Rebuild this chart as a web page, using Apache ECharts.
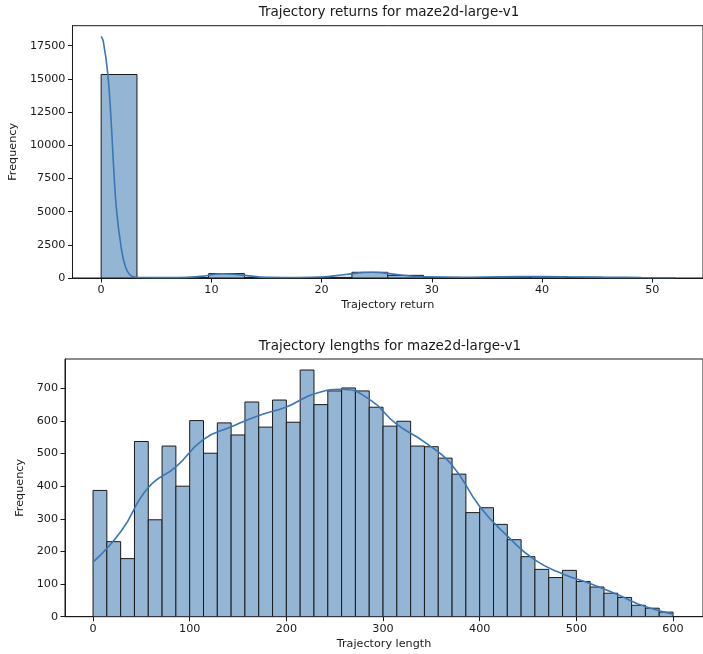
<!DOCTYPE html>
<html><head><meta charset="utf-8">
<script src="https://cdn.jsdelivr.net/npm/echarts@6/dist/echarts.min.js"></script>
<style>html,body{margin:0;padding:0;background:#fff}#c{width:703px;height:654px}</style>
</head><body><div id="c"></div>
<script>
// ---- Top chart: trajectory returns ----
const returnBinEdges = [0,3.25,6.5,9.75,13,16.25,19.5,22.75,26,29.25,32.5,35.75,39,42.25,45.5,48.75,52];
const returnCounts = [15330,30,30,330,40,30,50,430,200,50,40,70,100,50,30,20];
const returnKdeX = [0,0.2,0.6,0.9,1.15,1.4,1.8,2.2,2.6,3.0,3.5,5,7,9,11,13,15,18,20,22,24.5,27,29,32,35,38,40,43,46,49,52];
const returnKdeY = [18200,17800,15400,11900,8100,5100,2400,850,250,80,40,30,30,120,320,200,50,40,70,250,430,250,90,60,70,100,110,80,50,40,20];
const returnXTicks = [0,10,20,30,40,50];
const returnYTicks = [0,2500,5000,7500,10000,12500,15000,17500];

// ---- Bottom chart: trajectory lengths ----
const lengthBinEdges = [0,14.29,28.57,42.86,57.14,71.43,85.71,100,114.29,128.57,142.86,157.14,171.43,185.71,200,214.29,228.57,242.86,257.14,271.43,285.71,300,314.29,328.57,342.86,357.14,371.43,385.71,400,414.29,428.57,442.86,457.14,471.43,485.71,500,514.29,528.57,542.86,557.14,571.43,585.71,600];
const lengthCounts = [387,230,178,537,297,523,400,601,501,594,557,658,581,664,596,756,650,692,701,692,642,584,599,523,521,486,437,319,334,283,236,184,145,120,142,108,91,72,59,35,26,14];
const lengthKdeX = [0,29,57,86,114,143,171,200,229,257,286,314,343,371,400,429,457,486,514,543,571,600];
const lengthKdeY = [167,262,395,460,543,582,616,643,683,697,666,590,535,466,338,246,174,131,102,67,31,8];
const lengthXTicks = [0,100,200,300,400,500,600];
const lengthYTicks = [0,100,200,300,400,500,600,700];

const FONT = 'DejaVu Sans';
const BAR_FILL = '#95b5d5';
const BAR_EDGE = '#1a1a1a';
const LINE = '#3a76b6';

function binData(edges, counts){
  return counts.map((c,i)=>[edges[i], edges[i+1], c]);
}
function pairs(xs, ys){ return xs.map((x,i)=>[x, ys[i]]); }

function histItem(params, api){
  const p0 = api.coord([api.value(0), api.value(2)]);
  const p1 = api.coord([api.value(1), 0]);
  return {type:'rect', shape:{x:p0[0], y:p0[1], width:p1[0]-p0[0], height:p1[1]-p0[1]},
    style:{fill:BAR_FILL, stroke:BAR_EDGE, lineWidth:1}};
}
const plain = v => String(v);

function xAxisCfg(idx, min, max, ticks, name, gap){
  return {type:'value', gridIndex:idx, min:min, max:max, name:name, nameLocation:'middle', nameGap:gap,
    nameTextStyle:{fontFamily:FONT, fontSize:11.2, color:'#1a1a1a'},
    axisLine:{show:true, onZero:false, lineStyle:{color:'#1a1a1a', width:1}},
    axisTick:{show:true, length:4.5, customValues:ticks, lineStyle:{color:'#1a1a1a'}},
    axisLabel:{customValues:ticks, formatter:plain, margin:7, fontFamily:FONT, fontSize:11.2, color:'#1a1a1a'},
    splitLine:{show:false}};
}
function yAxisCfg(idx, min, max, ticks, gap){
  return {type:'value', gridIndex:idx, min:min, max:max, name:'Frequency', nameLocation:'middle', nameGap:gap,
    nameTextStyle:{fontFamily:FONT, fontSize:11.2, color:'#1a1a1a'},
    axisLine:{show:true, onZero:false, lineStyle:{color:'#1a1a1a', width:1}},
    axisTick:{show:true, length:4.5, customValues:ticks, lineStyle:{color:'#1a1a1a'}},
    axisLabel:{customValues:ticks, formatter:plain, margin:7, fontFamily:FONT, fontSize:11.2, color:'#1a1a1a'},
    splitLine:{show:false}};
}

const chart = echarts.init(document.getElementById('c'), null, {renderer:'canvas'});
chart.setOption({
  animation:false,
  backgroundColor:'#fff',
  title:[
    {text:'Trajectory returns for maze2d-large-v1', left:389, top:5, textAlign:'center', padding:0,
      textStyle:{fontFamily:FONT, fontSize:13.5, fontWeight:'normal', color:'#1a1a1a'}},
    {text:'Trajectory lengths for maze2d-large-v1', left:390, top:339, textAlign:'center', padding:0,
      textStyle:{fontFamily:FONT, fontSize:13.5, fontWeight:'normal', color:'#1a1a1a'}}
  ],
  grid:[
    {left:70.7, top:25.7, width:637, height:252.3, show:true, borderColor:'#1a1a1a', borderWidth:1, backgroundColor:'transparent'},
    {left:65, top:359, width:650.8, height:257.7, show:true, borderColor:'#1a1a1a', borderWidth:1, backgroundColor:'transparent'}
  ],
  xAxis:[
    xAxisCfg(0, -2.6, 54.6, returnXTicks, 'Trajectory return', 22),
    xAxisCfg(1, -29, 631, lengthXTicks, 'Trajectory length', 22)
  ],
  yAxis:[
    yAxisCfg(0, 0, 19005, returnYTicks, 45),
    yAxisCfg(1, 0, 789.8, lengthYTicks, 31)
  ],
  series:[
    {type:'custom', xAxisIndex:0, yAxisIndex:0, renderItem:histItem, encode:{x:[0,1], y:2},
      data:binData(returnBinEdges, returnCounts), clip:true, z:2},
    {type:'line', xAxisIndex:0, yAxisIndex:0, data:pairs(returnKdeX, returnKdeY), smooth:0.5,
      showSymbol:false, lineStyle:{color:LINE, width:1.6}, z:3},
    {type:'custom', xAxisIndex:1, yAxisIndex:1, renderItem:histItem, encode:{x:[0,1], y:2},
      data:binData(lengthBinEdges, lengthCounts), clip:true, z:2},
    {type:'line', xAxisIndex:1, yAxisIndex:1, data:pairs(lengthKdeX, lengthKdeY), smooth:0.5,
      showSymbol:false, lineStyle:{color:LINE, width:1.6}, z:3}
  ]
});
</script>
</body></html>
